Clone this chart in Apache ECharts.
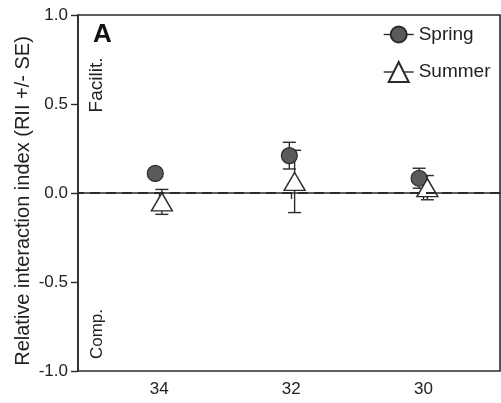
<!DOCTYPE html>
<html>
<head>
<meta charset="utf-8">
<script src="https://cdn.jsdelivr.net/npm/echarts@6/dist/echarts.min.js"></script>
<style>
  html, body { margin: 0; padding: 0; background: #fff; }
  #chart { width: 501px; height: 403px; }
</style>
</head>
<body>
<div id="chart"></div>
<script>
  // site positions (x is slightly dodged per season, as in the figure)
  const xTicks = [34, 32, 30];
  const yTicks = [-1.0, -0.5, 0.0, 0.5, 1.0];
  const springX = [34.06, 32.03, 30.065];
  const springY = [0.11, 0.21, 0.083];
  const springSE = [0.02, 0.075, 0.056];
  const summerX = [33.96, 31.95, 29.94];
  const summerY = [-0.05, 0.065, 0.03];
  const summerSE = [0.07, 0.175, 0.068];

  const ink = '#2b2b2b';
  const font = 'Liberation Sans, Arial, sans-serif';

  let myChart = echarts.init(document.getElementById('chart'));

  function pts(xs, ys) {
    return xs.map(function(x, i) { return [x, ys[i]]; });
  }
  function bars(xs, ys, se) {
    return xs.map(function(x, i) { return [x, ys[i] - se[i], ys[i] + se[i]]; });
  }

  // vertical error bar with caps
  function renderErr(params, api) {
    let lo = api.coord([api.value(0), api.value(1)]);
    let hi = api.coord([api.value(0), api.value(2)]);
    let w = 6.5;
    let st = { stroke: ink, lineWidth: 1.4 };
    return {
      type: 'group',
      children: [
        { type: 'line', shape: { x1: lo[0], y1: lo[1], x2: hi[0], y2: hi[1] }, style: st },
        { type: 'line', shape: { x1: lo[0] - w, y1: lo[1], x2: lo[0] + w, y2: lo[1] }, style: st },
        { type: 'line', shape: { x1: hi[0] - w, y1: hi[1], x2: hi[0] + w, y2: hi[1] }, style: st }
      ]
    };
  }

  let legendBase = {
    left: 378,
    orient: 'vertical',
    itemWidth: 30,
    textStyle: { fontFamily: font, fontSize: 19, color: '#222' },
    lineStyle: { color: ink, width: 1.4, opacity: 1 }
  };

  let option = {
    animation: false,
    grid: {
      left: 78,
      right: 1,
      top: 15,
      bottom: 32,
      show: true,
      borderColor: ink,
      borderWidth: 1.6
    },
    legend: [
      Object.assign({}, legendBase, { top: 20, itemHeight: 20, data: ['Spring'] }),
      Object.assign({}, legendBase, { top: 56, itemHeight: 25, data: ['Summer'] })
    ],
    xAxis: {
      type: 'value',
      inverse: true,
      min: 28.84,
      max: 35.23,
      splitLine: { show: false },
      axisLine: { show: true, lineStyle: { color: ink, width: 1.6 } },
      axisTick: { show: true, length: 6, customValues: xTicks, lineStyle: { color: ink, width: 1.4 } },
      axisLabel: { customValues: xTicks, color: '#222', fontFamily: font, fontSize: 17, margin: 10 }
    },
    yAxis: {
      type: 'value',
      min: -1,
      max: 1,
      interval: 0.5,
      name: 'Relative interaction index (RII +/- SE)',
      nameLocation: 'middle',
      nameGap: 45,
      nameMoveOverlap: false,
      nameTextStyle: { fontFamily: font, fontSize: 20, color: '#222', padding: [0, 16, 0, 0] },
      splitLine: { show: false },
      axisLine: { show: true, lineStyle: { color: ink, width: 1.6 } },
      axisTick: { show: true, length: 7, lineStyle: { color: ink, width: 1.4 } },
      axisLabel: {
        color: '#222', fontFamily: font, fontSize: 17, margin: 10,
        formatter: function(v) { return v.toFixed(1); }
      }
    },
    graphic: [
      { type: 'text', x: 93, y: 22, style: { text: 'A', fontFamily: font, fontWeight: 'bold', fontSize: 26, fill: '#111' } },
      { type: 'text', x: 97, y: 85, rotation: Math.PI / 2,
        style: { text: 'Facilit.', fontFamily: font, fontSize: 19, fill: '#222', textAlign: 'center', textVerticalAlign: 'middle' } },
      { type: 'text', x: 97, y: 334, rotation: Math.PI / 2,
        style: { text: 'Comp.', fontFamily: font, fontSize: 17, fill: '#222', textAlign: 'center', textVerticalAlign: 'middle' } }
    ],
    series: [
      {
        name: 'zero',
        type: 'line',
        data: [],
        markLine: {
          silent: true,
          symbol: 'none',
          label: { show: false },
          lineStyle: { color: ink, width: 1.8, type: [10, 6] },
          data: [{ yAxis: 0 }]
        }
      },
      {
        name: 'springErr',
        type: 'custom',
        renderItem: renderErr,
        data: bars(springX, springY, springSE),
        z: 2
      },
      {
        name: 'summerErr',
        type: 'custom',
        renderItem: renderErr,
        data: bars(summerX, summerY, summerSE),
        z: 2
      },
      {
        name: 'Spring',
        type: 'line',
        data: pts(springX, springY),
        symbol: 'circle',
        symbolSize: 16,
        lineStyle: { width: 0, opacity: 0 },
        itemStyle: { color: '#5a5a5a', borderColor: ink, borderWidth: 1.2 },
        z: 3
      },
      {
        name: 'Summer',
        type: 'line',
        data: pts(summerX, summerY),
        symbol: 'triangle',
        symbolSize: [21, 18],
        lineStyle: { width: 0, opacity: 0 },
        itemStyle: { color: '#fff', borderColor: ink, borderWidth: 1.4 },
        z: 4
      }
    ]
  };
  myChart.setOption(option);
</script>
</body>
</html>
